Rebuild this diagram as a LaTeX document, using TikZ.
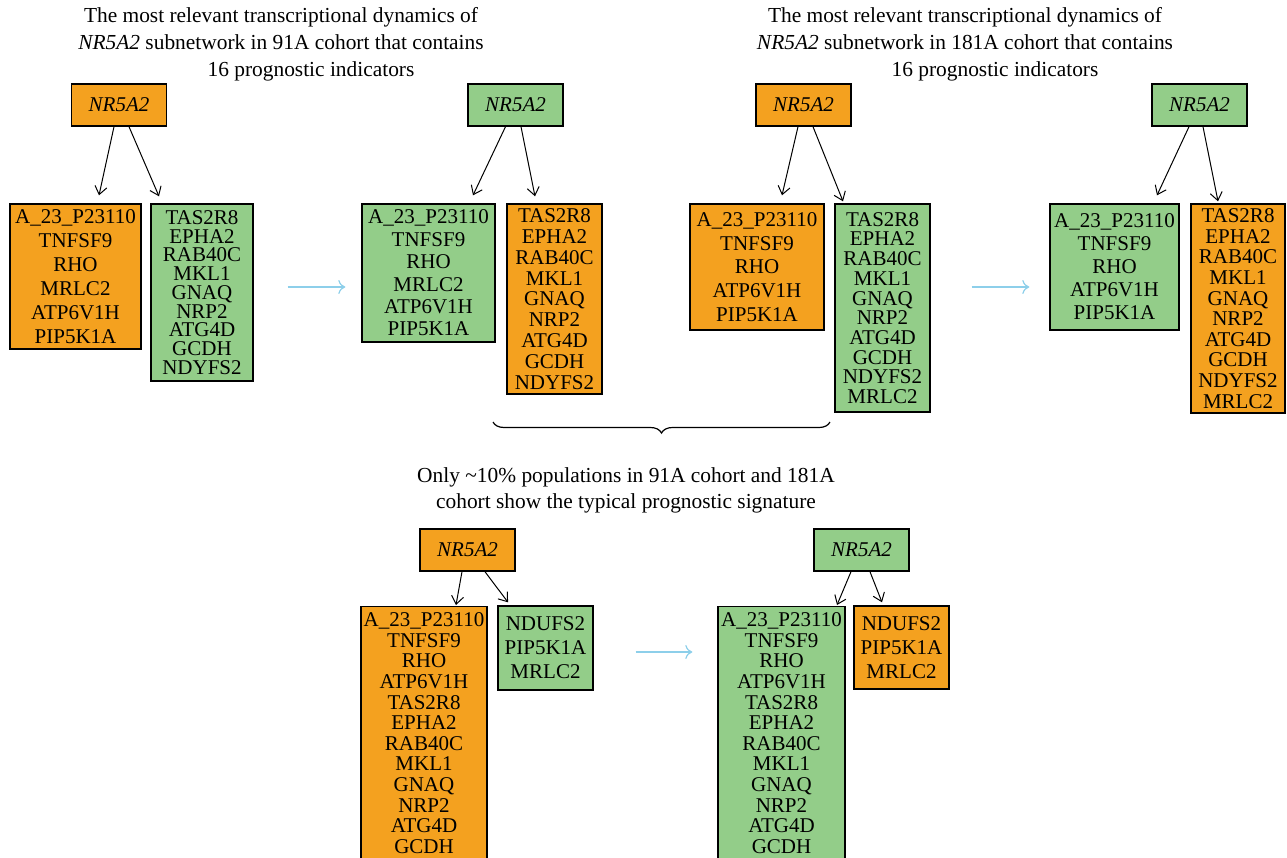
\documentclass[tikz,border=0pt]{standalone}
\usepackage{fontspec}
\setmainfont{Liberation Serif}
\usetikzlibrary{arrows.meta,calc,decorations.pathreplacing}
\definecolor{cOrange}{HTML}{F4A11F}
\definecolor{cGreen}{HTML}{93CD89}
\definecolor{cSky}{HTML}{8DCFEA}
\newcommand{\genefont}[1]{\fontsize{10.5}{#1}\selectfont\lineskiplimit=-10pt\relax}
\tikzset{
  hub/.style={draw=black,fill=#1,line width=0.7pt,minimum width=47.5pt,minimum height=21pt,inner sep=0pt,font=\fontsize{10.5}{12}\selectfont\itshape},
  hub/.default=cOrange,
  genes/.style={draw=black,fill=#1,line width=0.7pt,align=center,inner sep=0pt},
  genes/.default=cOrange,
  ttl/.style={align=center,font=\fontsize{10.7}{13.5}\selectfont},
  arr/.style={-{Straight Barb[length=4pt,width=6pt]},line width=0.5pt,color=black},
  flow/.style={-{To[length=3.5pt,width=7pt]},line width=0.6pt,color=cSky},
}

\begin{document}
\begin{tikzpicture}[x=0.5pt,y=-0.5pt]
    \useasboundingbox (0,0) rectangle (1287,858);
    \clip (0,0) rectangle (1287,858);
    % titles
    \node[ttl] (t1) at (281,44.5) {The most relevant transcriptional dynamics of\\\textit{NR5A2} subnetwork in 91A cohort that contains\\\hspace*{30pt}16 prognostic indicators};
    \node[ttl] (t2) at (965,44.5) {The most relevant transcriptional dynamics of\\\textit{NR5A2} subnetwork in 181A cohort that contains\\\hspace*{30pt}16 prognostic indicators};
    \node[ttl,font=\fontsize{10.7}{13}\selectfont] (t3) at (626,490) {Only \textasciitilde10\% populations in 91A cohort and 181A\\cohort show the typical prognostic signature};
    % 91A cohort
    \node[hub] (n1) at (119,105) {NR5A2};
    \node[hub=cGreen] (n2) at (515.5,105) {NR5A2};
    \node[genes,minimum width=65.5pt,minimum height=72.5pt,font=\genefont{12}] (l1a) at (75.5,276.5) {A\_23\_P23110\\TNFSF9\\RHO\\MRLC2\\ATP6V1H\\PIP5K1A};
    \node[genes=cGreen,minimum width=51pt,minimum height=88.5pt,font=\genefont{9.35}] (l1b) at (202,292.5) {TAS2R8\\EPHA2\\RAB40C\\MKL1\\GNAQ\\NRP2\\ATG4D\\GCDH\\NDYFS2};
    \node[genes=cGreen,minimum width=66.5pt,minimum height=69pt,font=\genefont{11.2}] (l2a) at (428.5,273) {A\_23\_P23110\\TNFSF9\\RHO\\MRLC2\\ATP6V1H\\PIP5K1A};
    \node[genes,minimum width=47.5pt,minimum height=95pt,font=\genefont{10.4}] (l2b) at (554.5,299) {TAS2R8\\EPHA2\\RAB40C\\MKL1\\GNAQ\\NRP2\\ATG4D\\GCDH\\NDYFS2};
    % 181A cohort
    \node[hub] (n3) at (803.5,105) {NR5A2};
    \node[hub=cGreen] (n4) at (1199.5,105) {NR5A2};
    \node[genes,minimum width=67pt,minimum height=63pt,font=\genefont{11.85}] (l3a) at (757,267) {A\_23\_P23110\\TNFSF9\\RHO\\ATP6V1H\\PIP5K1A};
    \node[genes=cGreen,minimum width=47.5pt,minimum height=104pt,font=\genefont{9.85}] (l3b) at (882.5,308) {TAS2R8\\EPHA2\\RAB40C\\MKL1\\GNAQ\\NRP2\\ATG4D\\GCDH\\NDYFS2\\MRLC2};
    \node[genes=cGreen,minimum width=64.5pt,minimum height=63pt,font=\genefont{11.5}] (l4a) at (1114.5,267) {A\_23\_P23110\\TNFSF9\\RHO\\ATP6V1H\\PIP5K1A};
    \node[genes,minimum width=47pt,minimum height=104.5pt,font=\genefont{10.3}] (l4b) at (1238,308.5) {TAS2R8\\EPHA2\\RAB40C\\MKL1\\GNAQ\\NRP2\\ATG4D\\GCDH\\NDYFS2\\MRLC2};
    % typical signature
    \node[hub] (n5) at (467.5,550) {NR5A2};
    \node[hub=cGreen] (n6) at (861.5,550) {NR5A2};
    \node[genes,anchor=north,minimum width=63pt,inner ysep=3pt,font=\genefont{10.3}] (l5a) at (424,606) {A\_23\_P23110\\TNFSF9\\RHO\\ATP6V1H\\TAS2R8\\EPHA2\\RAB40C\\MKL1\\GNAQ\\NRP2\\ATG4D\\GCDH\\\phantom{X}};
    \node[genes=cGreen,minimum width=47.5pt,minimum height=42pt,font=\genefont{12}] (l5b) at (545.5,648) {NDUFS2\\PIP5K1A\\MRLC2};
    \node[genes=cGreen,anchor=north,minimum width=63.5pt,inner ysep=3pt,font=\genefont{10.3}] (l6a) at (781.5,606) {A\_23\_P23110\\TNFSF9\\RHO\\ATP6V1H\\TAS2R8\\EPHA2\\RAB40C\\MKL1\\GNAQ\\NRP2\\ATG4D\\GCDH\\\phantom{X}};
    \node[genes,minimum width=47.5pt,minimum height=41.5pt,font=\genefont{12}] (l6b) at (901.5,647.5) {NDUFS2\\PIP5K1A\\MRLC2};
    % regulation arrows
    \draw[arr] ($(n1.south)+(-5,0)$) -- ($(l1a.north)+(23.5,-8)$);
    \draw[arr] ($(n1.south)+(10,0)$) -- ($(l1b.north)+(-43,-7)$);
    \draw[arr] ($(n2.south)+(-10,0)$) -- ($(l2a.north)+(44.5,-8)$);
    \draw[arr] ($(n2.south)+(5.5,0)$) -- ($(l2b.north)+(-19.5,-7)$);
    \draw[arr] ($(n3.south)+(-5.5,0)$) -- ($(l3a.north)+(25,-8)$);
    \draw[arr] ($(n3.south)+(9.5,0)$) -- ($(l3b.north)+(-39.5,-2)$);
    \draw[arr] ($(n4.south)+(-10.5,0)$) -- ($(l4a.north)+(42.5,-8)$);
    \draw[arr] ($(n4.south)+(3.5,0)$) -- ($(l4b.north)+(-20,-2)$);
    \draw[arr] ($(n5.south)+(-5.5,0)$) -- ($(l5a.north)+(32,-1)$);
    \draw[arr] ($(n5.south)+(17.5,0)$) -- ($(l5b.north)+(-37.5,-3)$);
    \draw[arr] ($(n6.south)+(-10.5,0)$) -- ($(l6a.north)+(55.5,-1)$);
    \draw[arr] ($(n6.south)+(8.5,0)$) -- ($(l6b.north)+(-19.5,-3)$);
    % transitions
    \draw[flow] ($(l1b.east)+(34,-5.5)$) -- ($(l2a.west)+(-16,14)$);
    \draw[flow] ($(l3b.east)+(41,-21)$) -- ($(l4a.west)+(-20,20)$);
    \draw[flow] ($(l5b.east)+(42,4)$) -- ($(l6a.north west)+(-25,46)$);
    \coordinate (bl) at (493,422);
    \coordinate (br) at (830,422);
    \draw[line width=0.6pt,decorate,decoration={brace,mirror,amplitude=5.5pt}] (bl) -- (br);
  \end{tikzpicture}
\end{document}
